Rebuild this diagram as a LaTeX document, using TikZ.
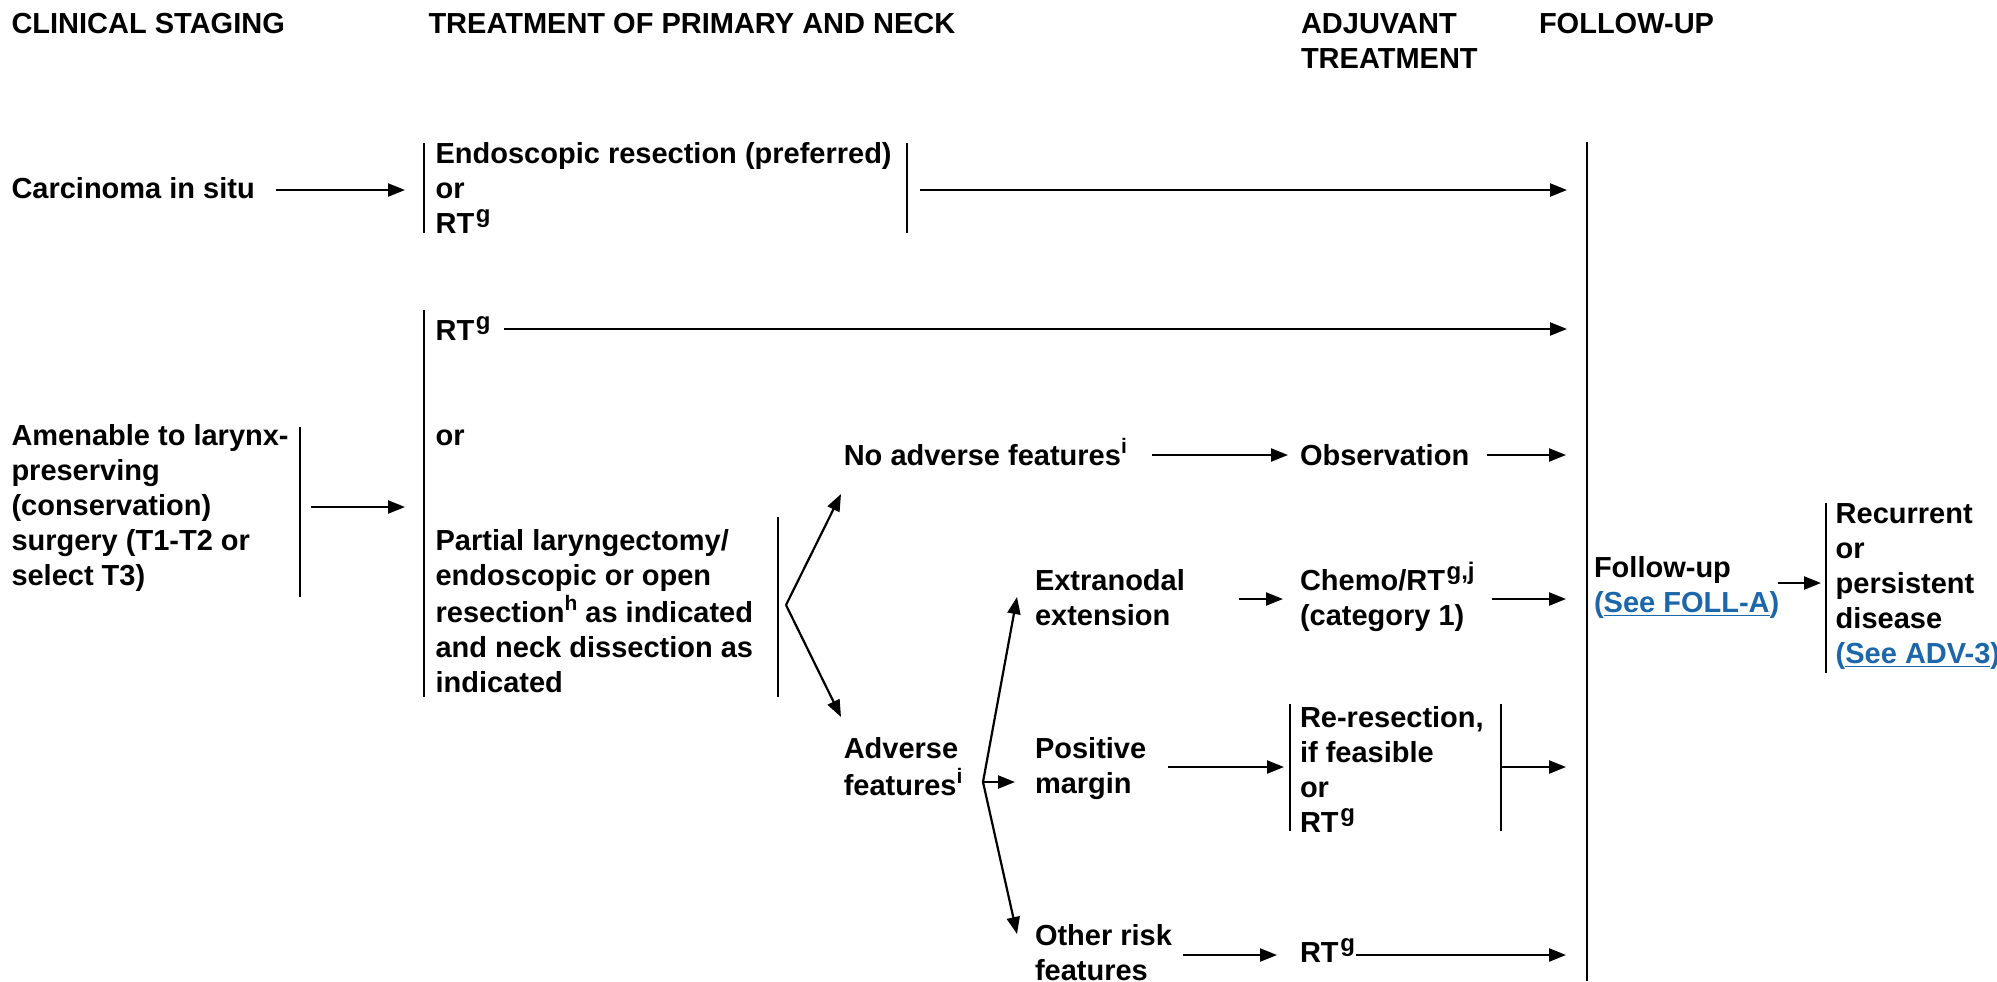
\documentclass[tikz,border=0pt]{standalone}
\usepackage{fontspec}
\setmainfont{Liberation Sans}
\usetikzlibrary{arrows.meta}
\definecolor{linkblue}{RGB}{28,102,170}
% stacked lines whose baseline is the first line's baseline
\newcommand{\lines}[1]{\begin{tabular}[t]{@{}l@{}}#1\end{tabular}}
% footnote markers
\newcommand{\fnote}[1]{\kern0.8pt\raisebox{5.3pt}{\fontsize{12}{12}\selectfont #1}}
\newcommand{\fnsmall}[1]{\raisebox{5.8pt}{\fontsize{10.5}{12}\selectfont #1}}
\begin{document}
\begin{tikzpicture}[x=0.5pt,y=-0.5pt,
  txt/.style={inner sep=0pt, outer sep=0pt, anchor=base west,
    font=\fontsize{14.5}{17.5}\selectfont\bfseries},
  arr/.style={line width=1.1pt, -{Triangle[length=8.5pt,width=6.5pt]}},
  bar/.style={line width=1pt}]
\useasboundingbox (0,0) rectangle (1997,981);

% column headings
\node[txt] (hstage) at (11.5,33) {CLINICAL STAGING};
\node[txt] (htreat) at (428.5,33) {TREATMENT OF PRIMARY AND NECK};
\node[txt] (hadj) at (1301,33) {\lines{ADJUVANT\\TREATMENT}};
\node[txt] (hfu) at (1539,33) {FOLLOW-UP};

% follow-up collector bar
\coordinate (fuT) at (1586.5,142);
\coordinate (fuB) at (1586.5,981);
\draw[bar] (fuT) -- (fuB);

% carcinoma in situ
\node[txt] (cis) at (11.5,198) {Carcinoma in situ};
\node[txt] (endo) at (435.6,163) {\lines{Endoscopic resection (preferred)\\or\\RT\fnote{g}}};
\coordinate (b1T) at (424,143); \coordinate (b1B) at (424,233);
\coordinate (b1rT) at (907,143); \coordinate (b1rB) at (907,233);
\draw[bar] (b1T) -- (b1B);
\draw[bar] (b1rT) -- (b1rB);
\coordinate (cisA) at (275.5,190); \coordinate (cisB) at (405,190);
\draw[arr] (cisA) -- (cisB);
\coordinate (endoA) at (920,190); \coordinate (endoB) at (1567,190);
\draw[arr] (endoA) -- (endoB);

% amenable to larynx-preserving surgery
\node[txt] (amen) at (11.5,445) {\lines{Amenable to larynx-\\preserving\\(conservation)\\surgery (T1-T2 or\\select T3)}};
\coordinate (baT) at (300,427); \coordinate (baB) at (300,597);
\draw[bar] (baT) -- (baB);
\coordinate (amA) at (310.6,507); \coordinate (amB) at (405,507);
\draw[arr] (amA) -- (amB);

\coordinate (b2T) at (424,310); \coordinate (b2B) at (424,697);
\draw[bar] (b2T) -- (b2B);
\node[txt] (rt) at (435.6,340) {RT\fnote{g}};
\coordinate (rtA) at (504,329); \coordinate (rtB) at (1567,329);
\draw[arr] (rtA) -- (rtB);
\node[txt] (or) at (435.6,445) {or};
\node[txt] (partial) at (435.6,550) {\lines{Partial laryngectomy/\\endoscopic or open\\resection\fnsmall{h} as indicated\\and neck dissection as\\indicated}};
\coordinate (bpT) at (778,517); \coordinate (bpB) at (778,697);
\draw[bar] (bpT) -- (bpB);

% first split
\coordinate (split1) at (786,605);
\coordinate (noadvTip) at (841,494);
\coordinate (advTip) at (841,717);
\draw[arr] (split1) -- (noadvTip);
\draw[arr] (split1) -- (advTip);

\node[txt] (noadv) at (843.8,465) {No adverse features\fnsmall{i}};
\coordinate (naA) at (1152,455); \coordinate (naB) at (1288,455);
\draw[arr] (naA) -- (naB);
\node[txt] (obs) at (1300,465) {Observation};
\coordinate (obA) at (1487,455); \coordinate (obB) at (1566,455);
\draw[arr] (obA) -- (obB);

\node[txt] (adv) at (843.8,758) {\lines{Adverse\\features\fnsmall{i}}};

% second split
\coordinate (split2) at (983,782);
\coordinate (extTip) at (1017,597);
\coordinate (posTip) at (1015,782);
\coordinate (othTip) at (1017,934);
\draw[arr] (split2) -- (extTip);
\draw[arr] (split2) -- (posTip);
\draw[arr] (split2) -- (othTip);

\node[txt] (extra) at (1035,590) {\lines{Extranodal\\extension}};
\coordinate (exA) at (1239,599); \coordinate (exB) at (1283,599);
\draw[arr] (exA) -- (exB);
\node[txt] (chemo) at (1300,590) {\lines{Chemo/RT\fnote{g,j}\\(category 1)}};
\coordinate (chA) at (1492,599); \coordinate (chB) at (1566,599);
\draw[arr] (chA) -- (chB);

\node[txt] (pos) at (1035,758) {\lines{Positive\\margin}};
\coordinate (poA) at (1168,767); \coordinate (poB) at (1284,767);
\draw[arr] (poA) -- (poB);
\coordinate (b3T) at (1290,704); \coordinate (b3B) at (1290,831);
\coordinate (b4T) at (1501,704); \coordinate (b4B) at (1501,831);
\draw[bar] (b3T) -- (b3B);
\draw[bar] (b4T) -- (b4B);
\node[txt] (reres) at (1300,727) {\lines{Re-resection,\\if feasible\\or\\RT\fnote{g}}};
\coordinate (reA) at (1501,767); \coordinate (reB) at (1566,767);
\draw[arr] (reA) -- (reB);

\node[txt] (other) at (1035,945) {\lines{Other risk\\features}};
\coordinate (otA) at (1183,955); \coordinate (otB) at (1277,955);
\draw[arr] (otA) -- (otB);
\node[txt] (rtg) at (1300,962) {RT\fnote{g}};
\coordinate (rgA) at (1356,955); \coordinate (rgB) at (1566,955);
\draw[arr] (rgA) -- (rgB);

% follow-up and recurrence
\node[txt] (fu) at (1594,577) {\lines{Follow-up\\{\color{linkblue}(\underline{See FOLL-A})}}};
\coordinate (fuA) at (1778,583); \coordinate (fuC) at (1821,583);
\draw[arr] (fuA) -- (fuC);
\coordinate (b5T) at (1826,503); \coordinate (b5B) at (1826,673);
\draw[bar] (b5T) -- (b5B);
\node[txt] (rec) at (1835.7,523) {\lines{Recurrent\\or\\persistent\\disease\\{\color{linkblue}(\underline{See ADV-3})}}};
\end{tikzpicture}
\end{document}
